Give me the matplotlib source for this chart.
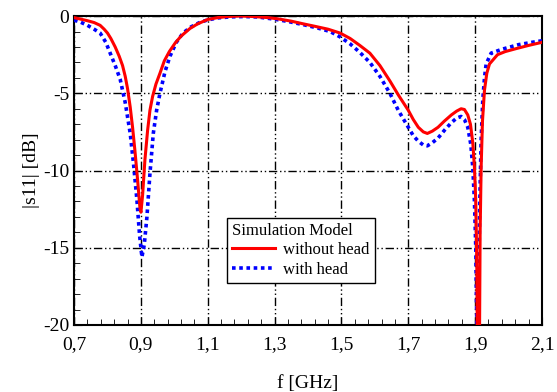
import numpy as np
import matplotlib
matplotlib.use('Agg')
import matplotlib.pyplot as plt
from matplotlib.ticker import FixedLocator, MultipleLocator, FuncFormatter

plt.rcParams['font.family'] = ['Liberation Serif', 'DejaVu Serif']
plt.rcParams['axes.unicode_minus'] = False

# without head (red, solid)
f_red = [0.70, 0.72, 0.74, 0.76, 0.778, 0.79, 0.80, 0.81, 0.823, 0.835, 0.845,
         0.853, 0.86, 0.868, 0.875, 0.882, 0.89, 0.897, 0.900, 0.905, 0.912,
         0.92, 0.927, 0.935, 0.945, 0.957, 0.97, 0.985, 1.002, 1.02, 1.047,
         1.07, 1.10, 1.13, 1.16, 1.19, 1.22, 1.25, 1.28, 1.31, 1.35, 1.385,
         1.42, 1.46, 1.496, 1.526, 1.555, 1.585, 1.615, 1.645, 1.67, 1.70,
         1.715, 1.73, 1.745, 1.757, 1.772, 1.789, 1.808, 1.829, 1.845, 1.858,
         1.868, 1.878, 1.886, 1.893, 1.898, 1.902, 1.905, 1.908, 1.912, 1.915,
         1.918, 1.922, 1.928, 1.935, 1.943, 1.967, 1.99, 2.024, 2.06, 2.10]
s11_red = [-0.1, -0.2, -0.3, -0.42, -0.6, -0.85, -1.1, -1.45, -2.0, -2.6, -3.2,
           -3.9, -4.7, -5.9, -7.2, -8.7, -10.6, -12.4, -12.7, -11.6, -9.3,
           -7.4, -6.1, -5.2, -4.4, -3.7, -2.9, -2.3, -1.76, -1.3, -0.8,
           -0.5, -0.22, -0.1, -0.03, 0.0, -0.01, -0.05, -0.1, -0.18, -0.33, -0.5,
           -0.66, -0.85, -1.1, -1.45, -1.9, -2.4, -3.2, -4.2, -5.1, -6.1,
           -6.7, -7.2, -7.5, -7.6, -7.45, -7.2, -6.8, -6.4, -6.15, -6.0,
           -6.05, -6.4, -7.0, -8.2, -9.8, -12.0, -16.0, -25.0, -25.0, -14.0,
           -9.8, -6.8, -4.8, -3.7, -3.1, -2.5, -2.3, -2.1, -1.9, -1.7]

# with head (blue, dotted)
f_blue = [0.70, 0.72, 0.74, 0.76, 0.778, 0.795, 0.808, 0.823, 0.838, 0.853,
          0.868, 0.878, 0.888, 0.896, 0.903, 0.910, 0.918, 0.927, 0.937, 0.947,
          0.957, 0.972, 0.987, 1.006, 1.026, 1.05, 1.077, 1.10, 1.13, 1.17,
          1.21, 1.25, 1.30, 1.34, 1.385, 1.43, 1.466, 1.496, 1.526, 1.555,
          1.585, 1.615, 1.645, 1.67, 1.70, 1.715, 1.73, 1.745, 1.757, 1.772,
          1.789, 1.808, 1.829, 1.845, 1.858, 1.868, 1.878, 1.887, 1.893, 1.898,
          1.902, 1.905, 1.907, 1.910, 1.914, 1.918, 1.923, 1.928, 1.933, 1.948,
          1.98, 2.03, 2.07, 2.10]
s11_blue = [-0.26, -0.4, -0.6, -0.85, -1.1, -1.7, -2.4, -3.2, -4.1, -5.6,
            -7.6, -9.6, -11.9, -14.2, -15.6, -14.8, -13.0, -10.2, -7.6, -6.1,
            -5.0, -3.6, -2.6, -1.7, -1.1, -0.7, -0.4, -0.25, -0.12, -0.05,
            -0.03, -0.06, -0.2, -0.35, -0.55, -0.78, -1.0, -1.35, -1.8, -2.35,
            -3.0, -3.9, -5.0, -6.1, -7.2, -7.75, -8.1, -8.35, -8.4, -8.2,
            -7.9, -7.4, -6.9, -6.6, -6.5, -6.7, -7.2, -8.3, -9.8, -12.0,
            -15.0, -20.0, -25.0, -18.0, -12.0, -8.0, -5.4, -4.0, -3.1, -2.4,
            -2.15, -1.85, -1.7, -1.6]

x_ticks = [0.7, 0.9, 1.1, 1.3, 1.5, 1.7, 1.9, 2.1]

fig = plt.figure(figsize=(5.57, 3.92), dpi=100)
ax = fig.add_axes([0.133, 0.171, 0.840, 0.788])

grid_ls = (0, (6, 2, 1, 2, 1, 2))
ax.grid(True, which='major', color='black', linestyle=grid_ls, linewidth=1.0)

ax.plot(f_blue, s11_blue, color='#0000ff', linestyle=(0, (1, 1)), linewidth=2.6,
        label='with head', zorder=3)
ax.plot(f_red, s11_red, color='#ff0000', linestyle='-', linewidth=2.2,
        label='without head', zorder=4)

ax.set_xlim(0.7, 2.1)
ax.set_ylim(-20, 0)
ax.xaxis.set_major_locator(FixedLocator(x_ticks))
ax.xaxis.set_minor_locator(FixedLocator(np.round(np.arange(0.7, 2.1001, 0.04), 3)))
ax.yaxis.set_major_locator(MultipleLocator(5))
ax.yaxis.set_minor_locator(MultipleLocator(1))
ax.xaxis.set_major_formatter(FuncFormatter(lambda v, p: f'{v:.1f}'.replace('.', ',')))
ax.yaxis.set_major_formatter(FuncFormatter(lambda v, p: f'{v:.0f}'))
ax.tick_params(which='both', direction='in', labelsize=14, top=False, right=False)
ax.tick_params(axis='x', which='major', pad=8)
ax.tick_params(which='major', length=6)
ax.tick_params(which='minor', length=4)
for sp in ax.spines.values():
    sp.set_linewidth(1.5)

ax.set_xlabel('f [GHz]', fontsize=14, labelpad=16)
ax.set_ylabel('|s11| [dB]', fontsize=14, labelpad=2)

handles, labels = ax.get_legend_handles_labels()
leg = ax.legend(handles[::-1], labels[::-1], title='Simulation Model',
                loc='lower left', bbox_to_anchor=(0.308, 0.11),
                fontsize=12, title_fontsize=12, frameon=True, fancybox=False,
                edgecolor='black', framealpha=1, handlelength=2.6,
                borderpad=0.3, labelspacing=0.2, handletextpad=0.5)
leg.get_frame().set_linewidth(1.0)
leg._legend_box.align = 'left'
leg.set_zorder(5)

fig.savefig('out.png', dpi=100)
